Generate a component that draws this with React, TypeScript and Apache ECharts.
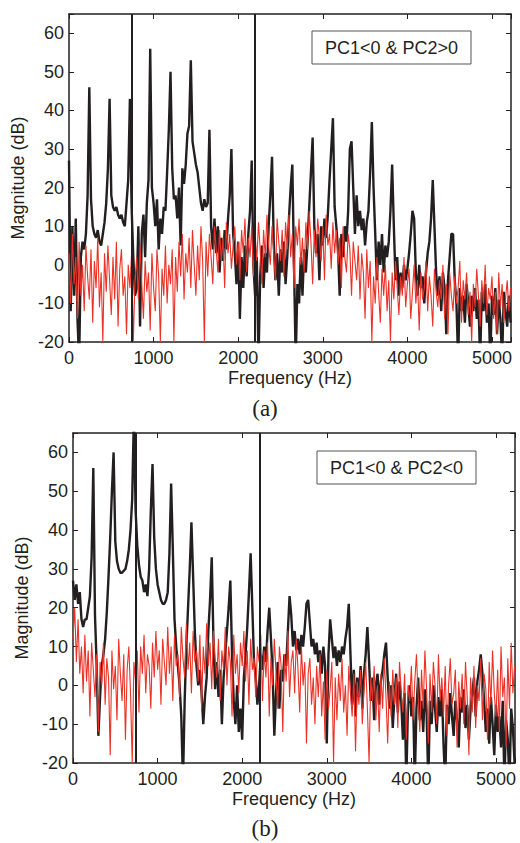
import React, { useEffect, useRef } from "react";
import * as echarts from "echarts";

// Frequency grid step (Hz) of the sampled spectra
const STEP = 20;
const X_MAX = 5225;
const Y_MIN = -20;
const Y_MAX = 65;
const X_TICK = 1000;
const Y_TICK = 10;

// Panel (a): PC1<0 & PC2>0
const blackA = [
  27, -12, 10, -8, 12, -14, -25, 2, 6, 4,
  8, 18, 46, 17, 10, 8, 7, 9, 6, 5,
  8, 11, 16, 25, 43, 18, 15, 14, 15, 13,
  12, 13, 11, 10, 16, 22, 43, 15, 2, -8,
  -6, 10, -16, 8, 13, 2, 16, 22, 56, 20,
  16, 10, 17, 4, 12, 8, 15, 14, 24, 35,
  50, 25, 17, 18, 12, 20, 5, 25, 21, 26,
  34, 36, 53, 32, 29, 26, 24, 20, 16, 14,
  17, 15, 16, 35, 10, 4, 12, 3, 10, -2,
  7, 1, 9, 4, 12, 18, 30, 8, 3, -5,
  6, -14, 2, -6, 5, -3, 8, 14, 27, 0,
  -8, 2, -25, -3, 5, -6, 3, -2, 10, 18,
  28, 6, -4, 3, -8, 4, -2, 6, -5, 2,
  12, 20, 26, 0, -25, -5, -10, 2, -8, 4,
  -2, 6, 15, 24, 33, 10, 3, 8, -4, 10,
  5, 12, 7, 13, 22, 30, 38, 15, 10, 4,
  -8, 8, 2, 10, 6, 14, 30, 32, 20, 8,
  18, 10, 14, 9, 12, 5, 11, 14, 24, 37,
  20, 8, -4, 6, 0, 8, -2, 5, 2, 6,
  14, 26, 10, -4, 2, -8, -2, -6, 0, -4,
  -1, 3, 8, 14, 12, -2, -8, 0, -6, -3,
  -10, -2, 3, 6, 12, 22, 10, -2, -8, -3,
  -12, -2, -6, -18, -4, 2, 8, 8, -4, -10,
  -25, -6, -12, -8, -15, -5, -10, -16, -8, -12,
  -6, -14, -9, -25, -7, -12, -5, -15, -10, -25,
  -8, -13, -6, -18, -9, -14, -25, -7, -12, -16,
  -8, -15,
];

const redA = [
  3, -10, 8, -5, 2, -14, 6, -8, 0, -12,
  5, -3, -9, 4, -15, 1, -6, 7, -11, -2,
  -20, 3, -7, 5, -4, -13, 2, -9, 6, -16,
  -1, 4, -8, -3, -18, 0, -6, 3, -20, -4,
  2, -9, 5, -5, -14, 1, -7, -2, -17, 3,
  -6, -12, 4, -3, -20, -1, -8, 5, -10, 0,
  -5, 4, -20, 2, -7, 6, -3, 8, -9, 3,
  -2, 7, -6, 9, 0, -8, 5, -4, 10, 1,
  -20, 6, -3, 8, 2, -5, 10, 4, -2, 9,
  1, 7, -6, 11, 3, 8, -1, 5, 10, 0,
  6, -4, 9, 3, 12, -2, 7, 2, 10, -3,
  8, 1, 11, 4, -5, 9, 2, 13, 5, 0,
  10, 3, -4, 12, 6, 1, 9, -3, 11, 4,
  13, 2, 8, -6, 10, 5, 12, 0, 7, -2,
  11, 4, 14, 6, -5, 9, 2, 12, 7, 1,
  10, -4, 13, 5, 8, -1, 11, 3, 9, 0,
  7, -6, 10, 2, -2, 8, 4, -8, 6, 1,
  -4, 5, -9, 3, -2, -14, 4, -6, 1, -20,
  -3, -10, 2, -7, -15, -1, -8, 0, -12, -4,
  -20, -2, -9, 1, -6, -13, -3, -8, 2, -11,
  -5, -1, -14, -7, 0, -10, -4, -17, -2, -9,
  -6, 1, -12, -3, -8, -16, -1, -7, -11, -4,
  -9, 0, -14, -5, -18, -2, -8, -12, -3, -10,
  -6, 1, -15, -4, -9, -2, -13, -7, -20, -5,
  -11, -1, -8, -16, -4, -10, 0, -13, -6, -9,
  -3, -14, -7, -18, -2, -11, -5, -15, -9, -4,
  -12, -6,
];

// Panel (b): PC1<0 & PC2<0
const blackB = [
  27, 22, 26, 21, 24, 17, 15, 17, 17, 20,
  23, 33, 56, 18, 5, -13, -3, 5, 8, 12,
  19, 28, 38, 50, 60, 37, 32, 30, 29, 29,
  29.5, 30, 32, 35, 40, 48, 70, 45, 36, 31,
  28, 27, 24, 26, 23, 30, 45, 57, 38, 30,
  26, 24, 22, 21, 21, 22, 24, 34, 52, 35,
  17, 10, 5, 0, -8, -25, -4, 10, 20, 30,
  42, 28, 14, 5, 0, 4, -2, -10, -3, 2,
  14, 22, 33, 12, -1, 6, -3, 4, -10, 2,
  8, 14, 20, 27, 8, -4, -10, 0, -12, -6,
  -14, 2, 8, 15, 24, 34, 20, 6, 2, -5,
  0, 8, 4, 10, 6, 14, 20, 12, 3, -13,
  -2, 6, -6, 4, 1, 8, 5, 14, 23, 18,
  10, 14, 9, 12, 8, 13, 10, 15, 21, 22,
  16, 10, 12, 8, 11, 6, 9, 3, 10, 5,
  -15, 8, 17, 12, 7, 10, 5, 9, 6, 10,
  8, 12, 15, 21, 8, -5, 4, -8, 2, -3,
  5, -6, 3, 8, 15, 6, -4, 2, -9, 0,
  3, -5, 1, 4, 8, 11, 2, -6, 0, -11,
  -3, 3, -7, 1, -4, -14, -2, -25, -5, 0,
  -8, -3, -25, -6, 2, -9, -4, -12, -1, -7,
  -25, -4, -10, 0, -6, -12, -3, -8, -1, -15,
  -25, -5, -10, -2, -8, -13, -4, -9, -16, -3,
  -7, -1, -11, -5, -14, -6, -2, 2, -8, 1,
  4, 8, 3, -4, -12, -6, -15, -3, -10, -18,
  -5, -12, -8, -16, -4, -25, -9, -14, -25, -6,
  -11, -20,
];

const redB = [
  12, 20, 6, 17, 3, 10, -2, 13, 1, 9,
  -8, 11, 4, -3, 8, -12, 6, 0, 11, -5,
  7, 2, -18, 9, -1, 5, -9, 12, 3, -4,
  8, -14, 4, 10, -2, -20, 6, 1, 9, -7,
  10, 3, 13, -2, 8, 5, -6, 11, 2, 14,
  4, 9, -5, 12, 6, 0, 15, 3, 10, -4,
  13, 5, 8, -3, 15, 7, 2, 16, 4, 11,
  -2, 14, 6, 9, 1, 13, -6, 10, 3, 16,
  5, 11, -1, 14, 7, 2, 12, -4, 9, 4,
  15, 0, 10, 6, -8, 13, 3, 8, -2, 11,
  5, 14, 1, 9, -5, 12, 4, 7, -3, 10,
  6, 13, -4, 9, 2, 11, -8, 7, 0, 12,
  3, -6, 10, 5, -12, 8, 1, 14, -3, 6,
  9, -2, 12, 4, -7, 10, 0, 6, -15, 3,
  7, -5, 2, -10, 5, -3, 8, -8, 1, -14,
  4, -6, -1, 6, -20, 2, -9, 3, -4, 7,
  -7, 0, -13, 5, -2, -8, 3, -17, 1, -5,
  4, -10, -1, 6, -6, -20, 2, -4, 5, -9,
  0, -12, 3, -6, 7, -3, -15, 1, -8, 4,
  -5, 2, -11, 6, -2, -7, 3, -14, 0, -4,
  5, -9, 1, 8, -3, -12, 4, -6, 9, -1,
  -15, 3, -7, 6, 0, -10, 8, -4, 2, -8,
  5, -13, 0, 7, -5, -2, 4, -16, 1, -6,
  3, -10, 6, -3, -18, 2, -7, 5, -11, 0,
  -4, 7, -9, 3, -1, -14, 6, -5, 9, -2,
  -8, 4, -12, 10, -3, 2, -16, 7, -6, 11,
  -2, 5,
];

// Vertical marker lines (Hz)
const markersA = [737, 2200];
const markersB = [740, 2206];

const legendA = "PC1<0 & PC2>0";
const legendB = "PC1<0 & PC2<0";
const captionA = "(a)";
const captionB = "(b)";
const xName = "Frequency (Hz)";
const yName = "Magnitude (dB)";

const INK = "#231f20";
const RED = "#ec3226";
const FONT = "Liberation Sans, Arial, sans-serif";

const toPairs = (arr: number[]) => arr.map((v, i) => [i * STEP, v]);

function xAxes(gridIndex: number) {
  const common = {
    type: "value",
    gridIndex,
    min: 0,
    max: X_MAX,
    interval: X_TICK,
    splitLine: { show: false },
    axisLine: { show: true, onZero: false, lineStyle: { color: INK, width: 1.5 } },
    axisTick: { show: true, inside: true, length: 5, lineStyle: { color: INK, width: 1 } },
  };
  return [
    {
      ...common,
      position: "bottom",
      axisLabel: {
        show: true,
        margin: 7,
        fontSize: 18,
        fontFamily: FONT,
        color: INK,
        formatter: (v: number) => (v % X_TICK === 0 ? String(v) : ""),
      },
      name: xName,
      nameLocation: "middle",
      nameGap: 27,
      nameTextStyle: { fontSize: 18, fontFamily: FONT, color: INK },
    },
    { ...common, position: "top", axisLabel: { show: false } },
  ];
}

function yAxes(gridIndex: number) {
  const common = {
    type: "value",
    gridIndex,
    min: Y_MIN,
    max: Y_MAX,
    interval: Y_TICK,
    splitLine: { show: false },
    axisLine: { show: true, onZero: false, lineStyle: { color: INK, width: 1.5 } },
    axisTick: { show: true, inside: true, length: 5, lineStyle: { color: INK, width: 1 } },
  };
  return [
    {
      ...common,
      position: "left",
      axisLabel: {
        show: true,
        margin: 5,
        fontSize: 18,
        fontFamily: FONT,
        color: INK,
        formatter: (v: number) => (v % Y_TICK === 0 ? String(v) : ""),
      },
      name: yName,
      nameLocation: "middle",
      nameGap: 37,
      nameTextStyle: { fontSize: 18, fontFamily: FONT, color: INK },
    },
    { ...common, position: "right", axisLabel: { show: false } },
  ];
}

function panelSeries(axisBase: number, black: number[], red: number[], markers: number[]) {
  return [
    {
      type: "line",
      xAxisIndex: axisBase,
      yAxisIndex: axisBase,
      data: toPairs(black),
      showSymbol: false,
      symbol: "none",
      clip: true,
      lineStyle: { color: INK, width: 2.4 },
      z: 2,
    },
    {
      type: "line",
      xAxisIndex: axisBase,
      yAxisIndex: axisBase,
      data: toPairs(red),
      showSymbol: false,
      symbol: "none",
      clip: true,
      lineStyle: { color: RED, width: 1.1 },
      z: 3,
      markLine: {
        silent: true,
        symbol: ["none", "none"],
        label: { show: false },
        lineStyle: { color: INK, width: 2, type: "solid" },
        data: markers.map((m) => ({ xAxis: m })),
      },
    },
  ];
}

function legendBox(x: number, y: number, text: string) {
  return {
    type: "group",
    z: 100,
    children: [
      {
        type: "rect",
        shape: { x, y, width: 159, height: 33 },
        style: { fill: "#ffffff", stroke: "#555555", lineWidth: 1 },
      },
      {
        type: "text",
        x: x + 79.5,
        y: y + 17,
        style: {
          text,
          fontSize: 18,
          fontFamily: FONT,
          fill: INK,
          align: "center",
          verticalAlign: "middle",
        },
      },
    ],
  };
}

function caption(x: number, y: number, text: string) {
  return {
    type: "text",
    x,
    y,
    style: {
      text,
      fontSize: 23,
      fontFamily: "Liberation Serif, Times New Roman, serif",
      fill: INK,
      align: "center",
      verticalAlign: "middle",
    },
  };
}

export default function App() {
  const ref = useRef<HTMLDivElement>(null);
  useEffect(() => {
    if (!ref.current) return;
    const chart = echarts.init(ref.current, null, { renderer: "svg" });
    chart.setOption({
      animation: false,
      backgroundColor: "#ffffff",
      grid: [
        { left: 69, top: 14, width: 442, height: 328, containLabel: false },
        { left: 73, top: 433, width: 442, height: 330, containLabel: false },
      ],
      xAxis: [...xAxes(0), ...xAxes(1)],
      yAxis: [...yAxes(0), ...yAxes(1)],
      series: [
        ...panelSeries(0, blackA, redA, markersA),
        ...panelSeries(2, blackB, redB, markersB),
      ],
      graphic: [
        legendBox(312, 31, legendA),
        legendBox(317, 451, legendB),
        caption(265, 408, captionA),
        caption(265, 828, captionB),
      ],
    });
    return () => chart.dispose();
  }, []);
  return (
    <div
      ref={ref}
      style={{ position: "absolute", left: 0, top: 0, width: 520, height: 843, background: "#fff" }}
    />
  );
}
